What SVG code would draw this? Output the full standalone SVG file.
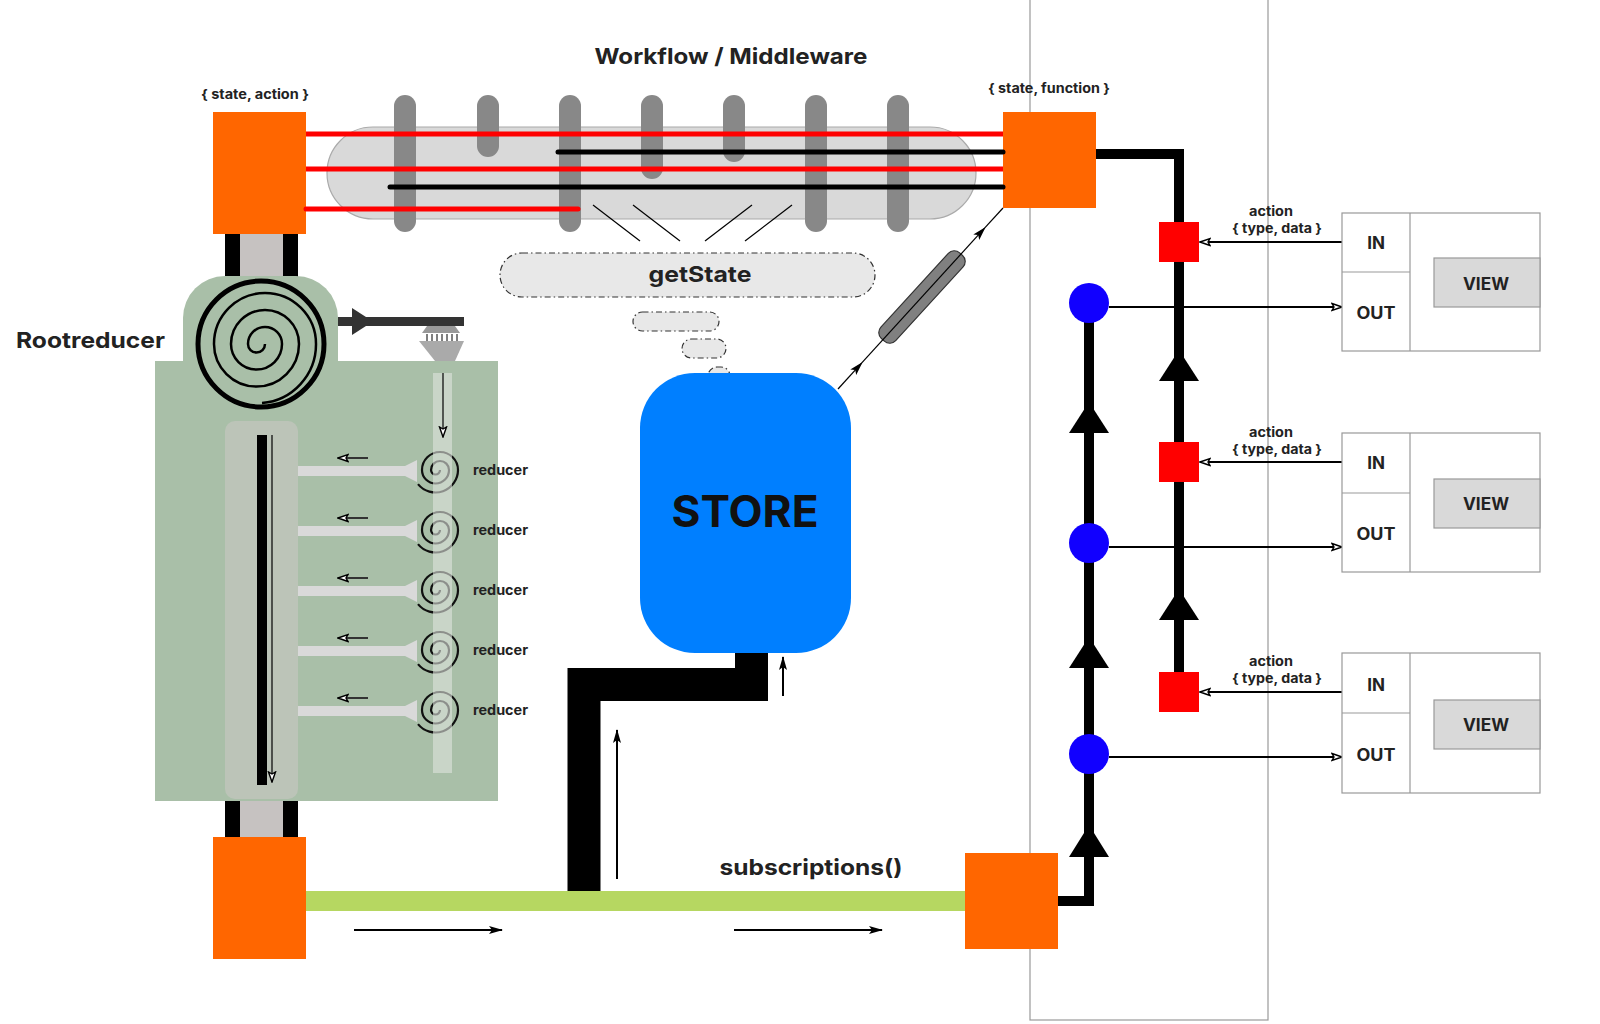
<svg xmlns="http://www.w3.org/2000/svg" width="1600" height="1024" viewBox="0 0 1600 1024">
<defs>
<style>
text{font-family:Inter,"Open Sans","Liberation Sans",sans-serif;font-weight:700;fill:#222}
.big{font-size:22px}
.lbl{font-size:13px}
.io{font-size:17px;text-anchor:middle}
.org{fill:#ff6600}
.bar{fill:#888}
.redl{stroke:#ff0000;stroke-width:5;stroke-linecap:round;fill:none}
.blkl{stroke:#000;stroke-width:5;stroke-linecap:round;fill:none}
.thick{stroke:#000;stroke-width:10;fill:none;stroke-linejoin:miter}
.box{fill:#fff;stroke:#999;stroke-width:1.2}
.vbox{fill:#d9d9d9;stroke:#999;stroke-width:1.2}
.pill{fill:#e8e8e8;stroke:#333;stroke-width:1.2;stroke-dasharray:6 3 1.5 3}
.rbar{fill:#d9d9d9}
.spir{fill:none;stroke:#111;stroke-width:2.2}
</style>
<marker id="mOpen" viewBox="0 0 12 10" refX="11" refY="5" markerWidth="12" markerHeight="10" orient="auto" markerUnits="userSpaceOnUse">
<path d="M1,1.5 L11,5 L1,8.5 L3,5 Z" fill="#fff" stroke="#000" stroke-width="1.4"/>
</marker>
<marker id="mFill" viewBox="0 0 14 10" refX="13" refY="5" markerWidth="14" markerHeight="10" orient="auto" markerUnits="userSpaceOnUse">
<path d="M0,1 L14,5 L0,9 L3,5 Z" fill="#000"/>
</marker>
<path id="rspiral" d="M2,0 A4.5,4.5 0 0 1 -7,0 A9,9 0 0 1 11,0 A13.5,13.5 0 0 1 -16,0 A18,18 0 0 1 20,0 A22.5,22.5 0 0 1 -20,14.1"/>
</defs>

<rect id="lane" x="1030" y="-1" width="238" height="1021" fill="none" stroke="#999" stroke-width="1.2"/>

<text class="big" x="731" y="64" text-anchor="middle" textLength="273" lengthAdjust="spacingAndGlyphs">Workflow / Middleware</text>

<g id="middleware">
<rect x="327" y="127" width="649" height="92" rx="46" fill="#d9d9d9" stroke="#aaa" stroke-width="1.2"/>
<rect class="bar" x="394" y="95" width="22" height="137" rx="11"/>
<rect class="bar" x="477" y="95" width="22" height="62" rx="11"/>
<rect class="bar" x="559" y="95" width="22" height="137" rx="11"/>
<rect class="bar" x="641" y="95" width="22" height="84" rx="11"/>
<rect class="bar" x="723" y="95" width="22" height="67" rx="11"/>
<rect class="bar" x="805" y="95" width="22" height="137" rx="11"/>
<rect class="bar" x="887" y="95" width="22" height="137" rx="11"/>
</g>

<g id="state-action">
<text class="lbl" x="255" y="99" text-anchor="middle" textLength="108" lengthAdjust="spacingAndGlyphs">{ state, action }</text>
<rect class="org" x="213" y="112" width="93" height="122"/>
</g>

<g id="state-function">
<text class="lbl" x="1049" y="93" text-anchor="middle" textLength="122" lengthAdjust="spacingAndGlyphs">{ state, function }</text>
<rect class="org" x="1003" y="112" width="93" height="96"/>
</g>

<g id="rootreducer">
<text class="big" x="16" y="348" textLength="149" lengthAdjust="spacingAndGlyphs">Rootreducer</text>
<rect x="225" y="234" width="15" height="43" fill="#000"/>
<rect x="240" y="234" width="43" height="43" fill="#c6c2c1"/>
<rect x="283" y="234" width="15" height="43" fill="#000"/>
<rect x="225" y="800" width="15" height="38" fill="#000"/>
<rect x="240" y="800" width="43" height="38" fill="#c6c2c1"/>
<rect x="283" y="800" width="15" height="38" fill="#000"/>
<path d="M183,362 V318 A42,42 0 0 1 225,276 H296 A42,42 0 0 1 338,318 V362 Z" fill="#a9bfa8"/>
<rect x="155" y="361" width="343" height="440" fill="#a9bfa8"/>
<circle cx="261" cy="344" r="63" fill="none" stroke="#000" stroke-width="5"/>
<path d="M265,344 A8.5,8.5 0 0 1 248,344 A17,17 0 0 1 282,344 A25.5,25.5 0 0 1 231,344 A34,34 0 0 1 299,344 A42.5,42.5 0 0 1 214,344 A51,51 0 0 1 316,344 A59,59 0 0 1 262,403" fill="none" stroke="#000" stroke-width="2.5"/>
<rect x="338" y="317" width="126" height="9" fill="#333"/>
<polygon points="352,308 373,321.5 352,335" fill="#333"/>
<polygon points="427,326 455,326 460,333 422,333" fill="#999"/>
<path d="M427,341 V334 M432,341 V334 M437,341 V334 M442,341 V334 M447,341 V334 M452,341 V334 M457,341 V334" stroke="#000" stroke-width="1"/>
<polygon points="419,341 464,341 455,361 435,361" fill="#aaa"/>
<rect x="225" y="421" width="73" height="378" rx="10" fill="#bcc4b8"/>
<rect x="257" y="435" width="10" height="350" fill="#000"/>
<line x1="272" y1="435" x2="272" y2="782" stroke="#000" stroke-width="1.2" marker-end="url(#mOpen)"/>
</g>

<g id="reducers">
<g class="rbar">
<path d="M298,466 H405 L417,460 V482 L405,476 H298 Z"/>
<path d="M298,526 H405 L417,520 V542 L405,536 H298 Z"/>
<path d="M298,586 H405 L417,580 V602 L405,596 H298 Z"/>
<path d="M298,646 H405 L417,640 V662 L405,656 H298 Z"/>
<path d="M298,706 H405 L417,700 V722 L405,716 H298 Z"/>
</g>
<g class="spir">
<use href="#rspiral" x="438" y="470"/>
<use href="#rspiral" x="438" y="530"/>
<use href="#rspiral" x="438" y="590"/>
<use href="#rspiral" x="438" y="650"/>
<use href="#rspiral" x="438" y="710"/>
</g>
<rect x="433" y="373" width="19" height="400" fill="#dfe4de" opacity="0.6"/>
<line x1="443" y1="373" x2="443" y2="437" stroke="#000" stroke-width="1.2" marker-end="url(#mOpen)"/>
<g stroke="#333" stroke-width="2">
<line x1="368" y1="458" x2="338" y2="458" marker-end="url(#mOpen)"/>
<line x1="368" y1="518" x2="338" y2="518" marker-end="url(#mOpen)"/>
<line x1="368" y1="578" x2="338" y2="578" marker-end="url(#mOpen)"/>
<line x1="368" y1="638" x2="338" y2="638" marker-end="url(#mOpen)"/>
<line x1="368" y1="698" x2="338" y2="698" marker-end="url(#mOpen)"/>
</g>
<g font-size="14">
<text x="473" y="475" textLength="55" lengthAdjust="spacingAndGlyphs">reducer</text>
<text x="473" y="535" textLength="55" lengthAdjust="spacingAndGlyphs">reducer</text>
<text x="473" y="595" textLength="55" lengthAdjust="spacingAndGlyphs">reducer</text>
<text x="473" y="655" textLength="55" lengthAdjust="spacingAndGlyphs">reducer</text>
<text x="473" y="715" textLength="55" lengthAdjust="spacingAndGlyphs">reducer</text>
</g>
</g>

<g id="getstate">
<rect class="pill" x="500" y="253" width="375" height="44" rx="22"/>
<text class="big" x="700" y="282" text-anchor="middle" textLength="103" lengthAdjust="spacingAndGlyphs">getState</text>
<rect class="pill" x="633" y="312" width="86" height="19" rx="9.5"/>
<rect class="pill" x="682" y="339" width="44" height="19" rx="9.5"/>
<rect class="pill" x="708" y="367" width="22" height="18" rx="9"/>
</g>

<g id="store">
<rect x="640" y="373" width="211" height="280" rx="55" fill="#007fff"/>
<text x="745" y="527" font-size="44" text-anchor="middle" style="fill:#111" textLength="147" lengthAdjust="spacingAndGlyphs">STORE</text>
</g>

<g id="subscriptions">
<text class="big" x="811" y="875" text-anchor="middle" textLength="183" lengthAdjust="spacingAndGlyphs">subscriptions()</text>
<rect class="org" x="213" y="837" width="93" height="122"/>
<rect class="org" x="965" y="853" width="93" height="96"/>
</g>

<g id="connectors">
<line class="redl" x1="306" y1="134" x2="1003" y2="134" style="stroke-linecap:butt"/>
<line class="redl" x1="306" y1="169" x2="1003" y2="169" style="stroke-linecap:butt"/>
<path class="redl" d="M306,209 H578"/>
<path class="blkl" d="M558,152 H1003"/>
<path class="blkl" d="M390,187 H1003"/>
<g stroke="#000" stroke-width="1.2">
<line x1="593" y1="205" x2="640" y2="241"/>
<line x1="633" y1="205" x2="680" y2="241"/>
<line x1="752" y1="205" x2="705" y2="241"/>
<line x1="792" y1="205" x2="745" y2="241"/>
</g>
<rect x="-58" y="-10" width="116" height="20" rx="8" fill="#808080" stroke="#333" stroke-width="1.2" transform="translate(922,297) rotate(-47.6)"/>
<line x1="838" y1="389" x2="862" y2="362.7" stroke="#000" stroke-width="1.2" marker-end="url(#mFill)"/>
<line x1="862" y1="362.7" x2="985" y2="227.7" stroke="#000" stroke-width="1.2" marker-end="url(#mFill)"/>
<line x1="985" y1="227.7" x2="1003" y2="208" stroke="#000" stroke-width="1.2"/>
<path d="M751.5,653 V684.5 H584 V891" fill="none" stroke="#000" stroke-width="33" stroke-linejoin="miter"/>
<line x1="617" y1="879" x2="617" y2="730" stroke="#000" stroke-width="2" marker-end="url(#mFill)"/>
<line x1="783" y1="696" x2="783" y2="657" stroke="#000" stroke-width="2" marker-end="url(#mFill)"/>
<rect x="306" y="891" width="659" height="20" fill="#b6d761"/>
<line x1="354" y1="930" x2="502" y2="930" stroke="#000" stroke-width="2" marker-end="url(#mFill)"/>
<line x1="734" y1="930" x2="882" y2="930" stroke="#000" stroke-width="2" marker-end="url(#mFill)"/>
<path class="thick" d="M1096,154 H1179 V692"/>
<path class="thick" d="M1058,901 H1089 V303"/>
<polygon points="1179,350 1199,381 1159,381"/>
<polygon points="1179,589 1199,620 1159,620"/>
<polygon points="1089,402 1109,433 1069,433"/>
<polygon points="1089,637 1109,668 1069,668"/>
<polygon points="1089,825 1109,857 1069,857"/>
<g stroke="#000" stroke-width="2">
<line x1="1342" y1="242" x2="1200" y2="242" marker-end="url(#mOpen)"/>
<line x1="1342" y1="462" x2="1200" y2="462" marker-end="url(#mOpen)"/>
<line x1="1342" y1="692" x2="1200" y2="692" marker-end="url(#mOpen)"/>
<line x1="1109" y1="307" x2="1342" y2="307" marker-end="url(#mOpen)"/>
<line x1="1109" y1="547" x2="1342" y2="547" marker-end="url(#mOpen)"/>
<line x1="1109" y1="757" x2="1342" y2="757" marker-end="url(#mOpen)"/>
</g>
</g>

<g id="dispatchers">
<rect x="1159" y="222" width="40" height="40" fill="#ff0000"/>
<rect x="1159" y="442" width="40" height="40" fill="#ff0000"/>
<rect x="1159" y="672" width="40" height="40" fill="#ff0000"/>
</g>

<g id="listeners" fill="#1100ff">
<circle cx="1089" cy="303" r="20"/>
<circle cx="1089" cy="543" r="20"/>
<circle cx="1089" cy="754" r="20"/>
</g>

<g id="view1">
<text class="lbl" x="1271" y="216" text-anchor="middle" textLength="44" lengthAdjust="spacingAndGlyphs">action</text>
<text class="lbl" x="1277" y="233" text-anchor="middle" textLength="90" lengthAdjust="spacingAndGlyphs">{ type, data }</text>
<rect class="box" x="1342" y="213" width="198" height="138"/>
<line x1="1410" y1="213" x2="1410" y2="351" stroke="#999" stroke-width="1.2"/>
<line x1="1342" y1="272" x2="1410" y2="272" stroke="#999" stroke-width="1.2"/>
<rect class="vbox" x="1434" y="258" width="106" height="49"/>
<text class="io" x="1376" y="249">IN</text>
<text class="io" x="1376" y="319" textLength="39" lengthAdjust="spacingAndGlyphs">OUT</text>
<text class="io" x="1486" y="290" textLength="46" lengthAdjust="spacingAndGlyphs">VIEW</text>
</g>

<g id="view2">
<text class="lbl" x="1271" y="437" text-anchor="middle" textLength="44" lengthAdjust="spacingAndGlyphs">action</text>
<text class="lbl" x="1277" y="454" text-anchor="middle" textLength="90" lengthAdjust="spacingAndGlyphs">{ type, data }</text>
<rect class="box" x="1342" y="433" width="198" height="139"/>
<line x1="1410" y1="433" x2="1410" y2="572" stroke="#999" stroke-width="1.2"/>
<line x1="1342" y1="493" x2="1410" y2="493" stroke="#999" stroke-width="1.2"/>
<rect class="vbox" x="1434" y="479" width="106" height="49"/>
<text class="io" x="1376" y="469">IN</text>
<text class="io" x="1376" y="540" textLength="39" lengthAdjust="spacingAndGlyphs">OUT</text>
<text class="io" x="1486" y="510" textLength="46" lengthAdjust="spacingAndGlyphs">VIEW</text>
</g>

<g id="view3">
<text class="lbl" x="1271" y="666" text-anchor="middle" textLength="44" lengthAdjust="spacingAndGlyphs">action</text>
<text class="lbl" x="1277" y="683" text-anchor="middle" textLength="90" lengthAdjust="spacingAndGlyphs">{ type, data }</text>
<rect class="box" x="1342" y="653" width="198" height="140"/>
<line x1="1410" y1="653" x2="1410" y2="793" stroke="#999" stroke-width="1.2"/>
<line x1="1342" y1="713" x2="1410" y2="713" stroke="#999" stroke-width="1.2"/>
<rect class="vbox" x="1434" y="700" width="106" height="49"/>
<text class="io" x="1376" y="691">IN</text>
<text class="io" x="1376" y="761" textLength="39" lengthAdjust="spacingAndGlyphs">OUT</text>
<text class="io" x="1486" y="731" textLength="46" lengthAdjust="spacingAndGlyphs">VIEW</text>
</g>
</svg>
